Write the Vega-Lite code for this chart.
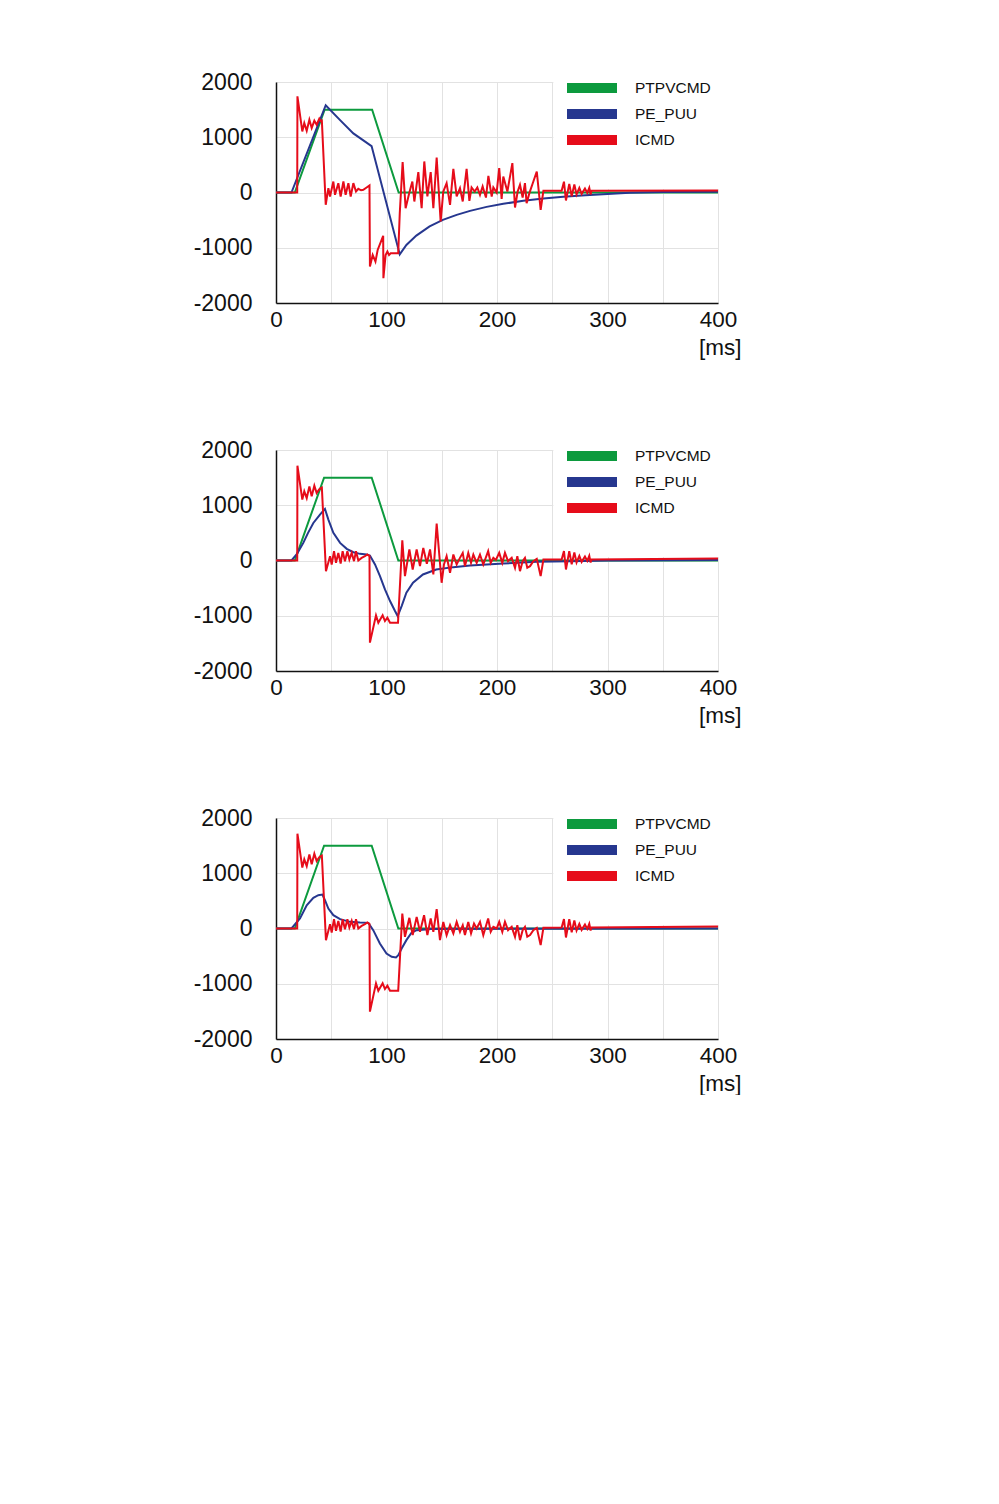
{
  "$schema": "https://vega.github.io/schema/vega-lite/v6.json",
  "background": "white",
  "padding": {"left": 193, "top": 71, "right": 0, "bottom": 0},
  "bounds": "flush",
  "spacing": 147,
  "config": {
    "font": "Liberation Sans",
    "view": {"stroke": null},
    "axis": {"gridColor": "#e2e2e2", "gridWidth": 1, "domainColor": "#111111", "domainWidth": 1.5, "ticks": false, "labelColor": "#111111", "titleColor": "#111111", "titleFontWeight": "normal", "titleFontSize": 22.5},
    "legend": {"orient": "none", "legendX": 290, "legendY": -4, "title": null, "symbolType": "M-1.8,0H8.2", "symbolSize": 100, "symbolStrokeWidth": 10, "labelFontSize": 15.5, "labelOffset": 49, "clipHeight": 20, "rowPadding": 6, "padding": 0, "labelColor": "#111111"}
  },
  "resolve": {"legend": {"color": "independent"}},
  "datasets": {
    "d": [
      {"p":1,"s":"PTPVCMD","t":0,"v":0},{"p":1,"s":"PTPVCMD","t":17,"v":0},{"p":1,"s":"PTPVCMD","t":44,"v":1500},{"p":1,"s":"PTPVCMD","t":87,"v":1500},{"p":1,"s":"PTPVCMD","t":111,"v":0},{"p":1,"s":"PTPVCMD","t":400,"v":0},
      {"p":1,"s":"PE_PUU","t":0,"v":0},{"p":1,"s":"PE_PUU","t":14,"v":0},{"p":1,"s":"PE_PUU","t":45,"v":1580},{"p":1,"s":"PE_PUU","t":58,"v":1310},{"p":1,"s":"PE_PUU","t":70,"v":1070},{"p":1,"s":"PE_PUU","t":86.5,"v":840},{"p":1,"s":"PE_PUU","t":112,"v":-1120},{"p":1,"s":"PE_PUU","t":118,"v":-950},{"p":1,"s":"PE_PUU","t":127,"v":-780},{"p":1,"s":"PE_PUU","t":139,"v":-615},{"p":1,"s":"PE_PUU","t":151,"v":-495},{"p":1,"s":"PE_PUU","t":163.5,"v":-405},{"p":1,"s":"PE_PUU","t":175.6,"v":-332},{"p":1,"s":"PE_PUU","t":190.6,"v":-260},{"p":1,"s":"PE_PUU","t":205.7,"v":-205},{"p":1,"s":"PE_PUU","t":223.8,"v":-151},{"p":1,"s":"PE_PUU","t":242,"v":-109},{"p":1,"s":"PE_PUU","t":260,"v":-79},{"p":1,"s":"PE_PUU","t":280,"v":-50},{"p":1,"s":"PE_PUU","t":300,"v":-25},{"p":1,"s":"PE_PUU","t":320,"v":-5},{"p":1,"s":"PE_PUU","t":350,"v":8},{"p":1,"s":"PE_PUU","t":400,"v":12},
      {"p":1,"s":"ICMD","t":0,"v":0},{"p":1,"s":"ICMD","t":19.2,"v":0},{"p":1,"s":"ICMD","t":19.4,"v":1740},{"p":1,"s":"ICMD","t":23.8,"v":1105},{"p":1,"s":"ICMD","t":25.6,"v":1256},{"p":1,"s":"ICMD","t":27.8,"v":1117},{"p":1,"s":"ICMD","t":30.2,"v":1317},{"p":1,"s":"ICMD","t":32.3,"v":1166},{"p":1,"s":"ICMD","t":34.7,"v":1299},{"p":1,"s":"ICMD","t":36.8,"v":1226},{"p":1,"s":"ICMD","t":39.2,"v":1335},{"p":1,"s":"ICMD","t":40.6,"v":1290},{"p":1,"s":"ICMD","t":41.5,"v":1300},{"p":1,"s":"ICMD","t":45,"v":-223},{"p":1,"s":"ICMD","t":47.4,"v":79},{"p":1,"s":"ICMD","t":48.9,"v":-72},{"p":1,"s":"ICMD","t":51.9,"v":199},{"p":1,"s":"ICMD","t":53.4,"v":-42},{"p":1,"s":"ICMD","t":56.4,"v":169},{"p":1,"s":"ICMD","t":58.5,"v":-72},{"p":1,"s":"ICMD","t":61,"v":199},{"p":1,"s":"ICMD","t":63,"v":-42},{"p":1,"s":"ICMD","t":65.5,"v":169},{"p":1,"s":"ICMD","t":67.6,"v":-72},{"p":1,"s":"ICMD","t":70,"v":169},{"p":1,"s":"ICMD","t":72.4,"v":18},{"p":1,"s":"ICMD","t":74.5,"v":66},{"p":1,"s":"ICMD","t":77,"v":40},{"p":1,"s":"ICMD","t":79,"v":48},{"p":1,"s":"ICMD","t":82,"v":91},{"p":1,"s":"ICMD","t":84.6,"v":127},{"p":1,"s":"ICMD","t":85,"v":-1340},{"p":1,"s":"ICMD","t":87.5,"v":-1130},{"p":1,"s":"ICMD","t":90,"v":-1250},{"p":1,"s":"ICMD","t":92,"v":-1040},{"p":1,"s":"ICMD","t":97,"v":-785},{"p":1,"s":"ICMD","t":97.2,"v":-1552},{"p":1,"s":"ICMD","t":99.2,"v":-1130},{"p":1,"s":"ICMD","t":100.8,"v":-1069},{"p":1,"s":"ICMD","t":102.3,"v":-1130},{"p":1,"s":"ICMD","t":103.8,"v":-1100},{"p":1,"s":"ICMD","t":110.6,"v":-1100},{"p":1,"s":"ICMD","t":112,"v":-375},{"p":1,"s":"ICMD","t":114.6,"v":550},{"p":1,"s":"ICMD","t":117.3,"v":-284},{"p":1,"s":"ICMD","t":120.7,"v":0},{"p":1,"s":"ICMD","t":123.4,"v":199},{"p":1,"s":"ICMD","t":125.2,"v":-163},{"p":1,"s":"ICMD","t":128.8,"v":368},{"p":1,"s":"ICMD","t":131.8,"v":-284},{"p":1,"s":"ICMD","t":134.2,"v":562},{"p":1,"s":"ICMD","t":137,"v":-72},{"p":1,"s":"ICMD","t":140,"v":368},{"p":1,"s":"ICMD","t":142.4,"v":-284},{"p":1,"s":"ICMD","t":145.4,"v":634},{"p":1,"s":"ICMD","t":149,"v":-525},{"p":1,"s":"ICMD","t":151.4,"v":18},{"p":1,"s":"ICMD","t":154.4,"v":169},{"p":1,"s":"ICMD","t":157.5,"v":-223},{"p":1,"s":"ICMD","t":160.5,"v":429},{"p":1,"s":"ICMD","t":163.5,"v":-72},{"p":1,"s":"ICMD","t":166.5,"v":79},{"p":1,"s":"ICMD","t":169,"v":-163},{"p":1,"s":"ICMD","t":172.5,"v":429},{"p":1,"s":"ICMD","t":175,"v":-151},{"p":1,"s":"ICMD","t":177,"v":91},{"p":1,"s":"ICMD","t":179.8,"v":18},{"p":1,"s":"ICMD","t":182.2,"v":91},{"p":1,"s":"ICMD","t":184.6,"v":-42},{"p":1,"s":"ICMD","t":187,"v":109},{"p":1,"s":"ICMD","t":190,"v":-91},{"p":1,"s":"ICMD","t":192.2,"v":302},{"p":1,"s":"ICMD","t":195.2,"v":-72},{"p":1,"s":"ICMD","t":196.7,"v":91},{"p":1,"s":"ICMD","t":199.7,"v":0},{"p":1,"s":"ICMD","t":202,"v":441},{"p":1,"s":"ICMD","t":204.2,"v":-115},{"p":1,"s":"ICMD","t":205.7,"v":290},{"p":1,"s":"ICMD","t":209.4,"v":18},{"p":1,"s":"ICMD","t":213.9,"v":531},{"p":1,"s":"ICMD","t":216.3,"v":-272},{"p":1,"s":"ICMD","t":218.7,"v":18},{"p":1,"s":"ICMD","t":220.8,"v":139},{"p":1,"s":"ICMD","t":223.2,"v":-91},{"p":1,"s":"ICMD","t":225.3,"v":169},{"p":1,"s":"ICMD","t":226.8,"v":-193},{"p":1,"s":"ICMD","t":229.3,"v":-12},{"p":1,"s":"ICMD","t":232.9,"v":199},{"p":1,"s":"ICMD","t":236,"v":380},{"p":1,"s":"ICMD","t":239.5,"v":-314},{"p":1,"s":"ICMD","t":242,"v":30},{"p":1,"s":"ICMD","t":258.5,"v":30},{"p":1,"s":"ICMD","t":260.6,"v":196},{"p":1,"s":"ICMD","t":262.4,"v":-145},{"p":1,"s":"ICMD","t":265.4,"v":156},{"p":1,"s":"ICMD","t":267.6,"v":-67},{"p":1,"s":"ICMD","t":270,"v":147},{"p":1,"s":"ICMD","t":272,"v":-36},{"p":1,"s":"ICMD","t":274.5,"v":84},{"p":1,"s":"ICMD","t":276.6,"v":-25},{"p":1,"s":"ICMD","t":279.6,"v":73},{"p":1,"s":"ICMD","t":281.7,"v":-7},{"p":1,"s":"ICMD","t":283.5,"v":84},{"p":1,"s":"ICMD","t":284.7,"v":-36},{"p":1,"s":"ICMD","t":285.5,"v":30},{"p":1,"s":"ICMD","t":400,"v":36},

      {"p":2,"s":"PTPVCMD","t":0,"v":0},{"p":2,"s":"PTPVCMD","t":17,"v":0},{"p":2,"s":"PTPVCMD","t":43.5,"v":1500},{"p":2,"s":"PTPVCMD","t":86.6,"v":1500},{"p":2,"s":"PTPVCMD","t":110.7,"v":0},{"p":2,"s":"PTPVCMD","t":400,"v":0},
      {"p":2,"s":"PE_PUU","t":0,"v":0},{"p":2,"s":"PE_PUU","t":14,"v":0},{"p":2,"s":"PE_PUU","t":19,"v":120},{"p":2,"s":"PE_PUU","t":24.7,"v":319},{"p":2,"s":"PE_PUU","t":29,"v":500},{"p":2,"s":"PE_PUU","t":33.8,"v":680},{"p":2,"s":"PE_PUU","t":39.8,"v":831},{"p":2,"s":"PE_PUU","t":44.3,"v":933},{"p":2,"s":"PE_PUU","t":47.4,"v":740},{"p":2,"s":"PE_PUU","t":51.9,"v":500},{"p":2,"s":"PE_PUU","t":58,"v":319},{"p":2,"s":"PE_PUU","t":64,"v":211},{"p":2,"s":"PE_PUU","t":70,"v":150},{"p":2,"s":"PE_PUU","t":76,"v":120},{"p":2,"s":"PE_PUU","t":82,"v":108},{"p":2,"s":"PE_PUU","t":85,"v":90},{"p":2,"s":"PE_PUU","t":89.6,"v":-72},{"p":2,"s":"PE_PUU","t":94.1,"v":-283},{"p":2,"s":"PE_PUU","t":98.6,"v":-524},{"p":2,"s":"PE_PUU","t":103.2,"v":-734},{"p":2,"s":"PE_PUU","t":107.7,"v":-915},{"p":2,"s":"PE_PUU","t":110.1,"v":-1005},{"p":2,"s":"PE_PUU","t":113.7,"v":-825},{"p":2,"s":"PE_PUU","t":118,"v":-584},{"p":2,"s":"PE_PUU","t":124,"v":-403},{"p":2,"s":"PE_PUU","t":133,"v":-253},{"p":2,"s":"PE_PUU","t":145,"v":-163},{"p":2,"s":"PE_PUU","t":160.5,"v":-120},{"p":2,"s":"PE_PUU","t":175.6,"v":-90},{"p":2,"s":"PE_PUU","t":205.7,"v":-54},{"p":2,"s":"PE_PUU","t":236,"v":-24},{"p":2,"s":"PE_PUU","t":266,"v":-12},{"p":2,"s":"PE_PUU","t":300,"v":0},{"p":2,"s":"PE_PUU","t":400,"v":8},
      {"p":2,"s":"ICMD","t":0,"v":0},{"p":2,"s":"ICMD","t":19.2,"v":0},{"p":2,"s":"ICMD","t":19.4,"v":1716},{"p":2,"s":"ICMD","t":23.8,"v":1102},{"p":2,"s":"ICMD","t":25.6,"v":1252},{"p":2,"s":"ICMD","t":27.8,"v":1130},{"p":2,"s":"ICMD","t":30.2,"v":1342},{"p":2,"s":"ICMD","t":32.3,"v":1162},{"p":2,"s":"ICMD","t":34.7,"v":1354},{"p":2,"s":"ICMD","t":36.8,"v":1222},{"p":2,"s":"ICMD","t":39.2,"v":1290},{"p":2,"s":"ICMD","t":40.6,"v":1312},{"p":2,"s":"ICMD","t":41.5,"v":1320},{"p":2,"s":"ICMD","t":45.2,"v":-193},{"p":2,"s":"ICMD","t":48.9,"v":78},{"p":2,"s":"ICMD","t":50.4,"v":-72},{"p":2,"s":"ICMD","t":52.5,"v":169},{"p":2,"s":"ICMD","t":54.3,"v":-42},{"p":2,"s":"ICMD","t":56.4,"v":138},{"p":2,"s":"ICMD","t":58.5,"v":-54},{"p":2,"s":"ICMD","t":60.3,"v":169},{"p":2,"s":"ICMD","t":62.4,"v":-12},{"p":2,"s":"ICMD","t":64.6,"v":169},{"p":2,"s":"ICMD","t":66.4,"v":18},{"p":2,"s":"ICMD","t":68.5,"v":138},{"p":2,"s":"ICMD","t":70.6,"v":-12},{"p":2,"s":"ICMD","t":72.4,"v":169},{"p":2,"s":"ICMD","t":74.5,"v":0},{"p":2,"s":"ICMD","t":77.5,"v":48},{"p":2,"s":"ICMD","t":80.5,"v":78},{"p":2,"s":"ICMD","t":82.7,"v":108},{"p":2,"s":"ICMD","t":84.6,"v":80},{"p":2,"s":"ICMD","t":85,"v":-1487},{"p":2,"s":"ICMD","t":90.5,"v":-993},{"p":2,"s":"ICMD","t":92.6,"v":-1126},{"p":2,"s":"ICMD","t":96.5,"v":-993},{"p":2,"s":"ICMD","t":98.6,"v":-1096},{"p":2,"s":"ICMD","t":100.8,"v":-1035},{"p":2,"s":"ICMD","t":103.2,"v":-1126},{"p":2,"s":"ICMD","t":110.4,"v":-1126},{"p":2,"s":"ICMD","t":114.3,"v":367},{"p":2,"s":"ICMD","t":116.7,"v":-283},{"p":2,"s":"ICMD","t":120.7,"v":199},{"p":2,"s":"ICMD","t":123.7,"v":-163},{"p":2,"s":"ICMD","t":127.3,"v":199},{"p":2,"s":"ICMD","t":130.3,"v":-102},{"p":2,"s":"ICMD","t":133.3,"v":229},{"p":2,"s":"ICMD","t":136.5,"v":-60},{"p":2,"s":"ICMD","t":139.4,"v":199},{"p":2,"s":"ICMD","t":142.4,"v":-253},{"p":2,"s":"ICMD","t":145.4,"v":668},{"p":2,"s":"ICMD","t":149.9,"v":-403},{"p":2,"s":"ICMD","t":152,"v":-72},{"p":2,"s":"ICMD","t":154.4,"v":78},{"p":2,"s":"ICMD","t":157.5,"v":-223},{"p":2,"s":"ICMD","t":160.5,"v":108},{"p":2,"s":"ICMD","t":163.5,"v":-72},{"p":2,"s":"ICMD","t":166,"v":30},{"p":2,"s":"ICMD","t":169,"v":138},{"p":2,"s":"ICMD","t":171,"v":-102},{"p":2,"s":"ICMD","t":174,"v":138},{"p":2,"s":"ICMD","t":176.5,"v":-42},{"p":2,"s":"ICMD","t":178.6,"v":108},{"p":2,"s":"ICMD","t":181.6,"v":-42},{"p":2,"s":"ICMD","t":184.6,"v":108},{"p":2,"s":"ICMD","t":187.6,"v":-72},{"p":2,"s":"ICMD","t":192,"v":169},{"p":2,"s":"ICMD","t":194.3,"v":-42},{"p":2,"s":"ICMD","t":196.7,"v":48},{"p":2,"s":"ICMD","t":199,"v":10},{"p":2,"s":"ICMD","t":202,"v":138},{"p":2,"s":"ICMD","t":204.8,"v":-42},{"p":2,"s":"ICMD","t":207.2,"v":138},{"p":2,"s":"ICMD","t":210,"v":-12},{"p":2,"s":"ICMD","t":213.3,"v":48},{"p":2,"s":"ICMD","t":216.3,"v":-132},{"p":2,"s":"ICMD","t":218.4,"v":78},{"p":2,"s":"ICMD","t":220.8,"v":-193},{"p":2,"s":"ICMD","t":223.2,"v":-12},{"p":2,"s":"ICMD","t":225.3,"v":48},{"p":2,"s":"ICMD","t":227.4,"v":-132},{"p":2,"s":"ICMD","t":229.9,"v":-102},{"p":2,"s":"ICMD","t":232.9,"v":-12},{"p":2,"s":"ICMD","t":236,"v":30},{"p":2,"s":"ICMD","t":239.5,"v":-283},{"p":2,"s":"ICMD","t":242,"v":18},{"p":2,"s":"ICMD","t":258.5,"v":18},{"p":2,"s":"ICMD","t":260.6,"v":170},{"p":2,"s":"ICMD","t":262.4,"v":-163},{"p":2,"s":"ICMD","t":265.4,"v":169},{"p":2,"s":"ICMD","t":267.6,"v":-67},{"p":2,"s":"ICMD","t":270,"v":147},{"p":2,"s":"ICMD","t":272,"v":-36},{"p":2,"s":"ICMD","t":274.5,"v":84},{"p":2,"s":"ICMD","t":276.6,"v":-25},{"p":2,"s":"ICMD","t":279.6,"v":73},{"p":2,"s":"ICMD","t":281.7,"v":-7},{"p":2,"s":"ICMD","t":283.5,"v":84},{"p":2,"s":"ICMD","t":284.7,"v":-36},{"p":2,"s":"ICMD","t":285.5,"v":18},{"p":2,"s":"ICMD","t":400,"v":36},

      {"p":3,"s":"PTPVCMD","t":0,"v":0},{"p":3,"s":"PTPVCMD","t":17,"v":0},{"p":3,"s":"PTPVCMD","t":43.5,"v":1500},{"p":3,"s":"PTPVCMD","t":86.6,"v":1500},{"p":3,"s":"PTPVCMD","t":110.7,"v":0},{"p":3,"s":"PTPVCMD","t":400,"v":0},
      {"p":3,"s":"PE_PUU","t":0,"v":0},{"p":3,"s":"PE_PUU","t":14,"v":0},{"p":3,"s":"PE_PUU","t":21.7,"v":181},{"p":3,"s":"PE_PUU","t":27.8,"v":421},{"p":3,"s":"PE_PUU","t":33.8,"v":554},{"p":3,"s":"PE_PUU","t":38.3,"v":602},{"p":3,"s":"PE_PUU","t":42,"v":614},{"p":3,"s":"PE_PUU","t":44.3,"v":512},{"p":3,"s":"PE_PUU","t":47.4,"v":361},{"p":3,"s":"PE_PUU","t":51.9,"v":241},{"p":3,"s":"PE_PUU","t":58,"v":169},{"p":3,"s":"PE_PUU","t":67,"v":120},{"p":3,"s":"PE_PUU","t":76,"v":108},{"p":3,"s":"PE_PUU","t":83.6,"v":102},{"p":3,"s":"PE_PUU","t":88,"v":-30},{"p":3,"s":"PE_PUU","t":94,"v":-271},{"p":3,"s":"PE_PUU","t":100,"v":-452},{"p":3,"s":"PE_PUU","t":104.7,"v":-512},{"p":3,"s":"PE_PUU","t":108.6,"v":-524},{"p":3,"s":"PE_PUU","t":110.7,"v":-482},{"p":3,"s":"PE_PUU","t":113.7,"v":-361},{"p":3,"s":"PE_PUU","t":118,"v":-211},{"p":3,"s":"PE_PUU","t":122.8,"v":-72},{"p":3,"s":"PE_PUU","t":127.3,"v":-30},{"p":3,"s":"PE_PUU","t":140,"v":-10},{"p":3,"s":"PE_PUU","t":200,"v":-5},{"p":3,"s":"PE_PUU","t":400,"v":0},
      {"p":3,"s":"ICMD","t":0,"v":0},{"p":3,"s":"ICMD","t":19.2,"v":0},{"p":3,"s":"ICMD","t":19.4,"v":1716},{"p":3,"s":"ICMD","t":23.8,"v":1102},{"p":3,"s":"ICMD","t":25.6,"v":1252},{"p":3,"s":"ICMD","t":27.8,"v":1130},{"p":3,"s":"ICMD","t":30.2,"v":1342},{"p":3,"s":"ICMD","t":32.3,"v":1162},{"p":3,"s":"ICMD","t":34.7,"v":1354},{"p":3,"s":"ICMD","t":36.8,"v":1222},{"p":3,"s":"ICMD","t":39.2,"v":1290},{"p":3,"s":"ICMD","t":40.6,"v":1312},{"p":3,"s":"ICMD","t":41.5,"v":1320},{"p":3,"s":"ICMD","t":45.2,"v":-211},{"p":3,"s":"ICMD","t":48.9,"v":78},{"p":3,"s":"ICMD","t":50.4,"v":-72},{"p":3,"s":"ICMD","t":52.5,"v":169},{"p":3,"s":"ICMD","t":54.3,"v":-42},{"p":3,"s":"ICMD","t":56.4,"v":138},{"p":3,"s":"ICMD","t":58.5,"v":-54},{"p":3,"s":"ICMD","t":60.3,"v":169},{"p":3,"s":"ICMD","t":62.4,"v":-12},{"p":3,"s":"ICMD","t":64.6,"v":169},{"p":3,"s":"ICMD","t":66.4,"v":18},{"p":3,"s":"ICMD","t":68.5,"v":138},{"p":3,"s":"ICMD","t":70.6,"v":-12},{"p":3,"s":"ICMD","t":72.4,"v":169},{"p":3,"s":"ICMD","t":74.5,"v":0},{"p":3,"s":"ICMD","t":77.5,"v":48},{"p":3,"s":"ICMD","t":80.5,"v":78},{"p":3,"s":"ICMD","t":82.7,"v":108},{"p":3,"s":"ICMD","t":84.6,"v":80},{"p":3,"s":"ICMD","t":85,"v":-1505},{"p":3,"s":"ICMD","t":90.5,"v":-993},{"p":3,"s":"ICMD","t":92.6,"v":-1126},{"p":3,"s":"ICMD","t":96.5,"v":-993},{"p":3,"s":"ICMD","t":98.6,"v":-1096},{"p":3,"s":"ICMD","t":100.8,"v":-1035},{"p":3,"s":"ICMD","t":103.2,"v":-1126},{"p":3,"s":"ICMD","t":110.6,"v":-1126},{"p":3,"s":"ICMD","t":114.3,"v":271},{"p":3,"s":"ICMD","t":116.7,"v":-150},{"p":3,"s":"ICMD","t":120.7,"v":193},{"p":3,"s":"ICMD","t":123.7,"v":-120},{"p":3,"s":"ICMD","t":127.3,"v":211},{"p":3,"s":"ICMD","t":130.3,"v":-60},{"p":3,"s":"ICMD","t":134,"v":241},{"p":3,"s":"ICMD","t":137,"v":-120},{"p":3,"s":"ICMD","t":140,"v":181},{"p":3,"s":"ICMD","t":142.4,"v":-60},{"p":3,"s":"ICMD","t":145.4,"v":349},{"p":3,"s":"ICMD","t":148.4,"v":-211},{"p":3,"s":"ICMD","t":151.4,"v":120},{"p":3,"s":"ICMD","t":154.4,"v":-120},{"p":3,"s":"ICMD","t":157.5,"v":60},{"p":3,"s":"ICMD","t":160.5,"v":-90},{"p":3,"s":"ICMD","t":163.5,"v":120},{"p":3,"s":"ICMD","t":166.5,"v":-60},{"p":3,"s":"ICMD","t":169,"v":60},{"p":3,"s":"ICMD","t":171,"v":-120},{"p":3,"s":"ICMD","t":174,"v":120},{"p":3,"s":"ICMD","t":176.5,"v":-90},{"p":3,"s":"ICMD","t":179.2,"v":90},{"p":3,"s":"ICMD","t":181.6,"v":0},{"p":3,"s":"ICMD","t":184.6,"v":120},{"p":3,"s":"ICMD","t":187.6,"v":-120},{"p":3,"s":"ICMD","t":192,"v":181},{"p":3,"s":"ICMD","t":194.3,"v":-60},{"p":3,"s":"ICMD","t":196.7,"v":30},{"p":3,"s":"ICMD","t":199.7,"v":0},{"p":3,"s":"ICMD","t":202,"v":120},{"p":3,"s":"ICMD","t":204.8,"v":-60},{"p":3,"s":"ICMD","t":207.2,"v":120},{"p":3,"s":"ICMD","t":210,"v":-30},{"p":3,"s":"ICMD","t":213.3,"v":30},{"p":3,"s":"ICMD","t":216.3,"v":-150},{"p":3,"s":"ICMD","t":218.4,"v":60},{"p":3,"s":"ICMD","t":220.8,"v":-211},{"p":3,"s":"ICMD","t":223.2,"v":-30},{"p":3,"s":"ICMD","t":225.3,"v":30},{"p":3,"s":"ICMD","t":227.4,"v":-150},{"p":3,"s":"ICMD","t":229.9,"v":-120},{"p":3,"s":"ICMD","t":232.9,"v":-30},{"p":3,"s":"ICMD","t":236,"v":12},{"p":3,"s":"ICMD","t":239.5,"v":-301},{"p":3,"s":"ICMD","t":242,"v":12},{"p":3,"s":"ICMD","t":258.5,"v":18},{"p":3,"s":"ICMD","t":260.6,"v":170},{"p":3,"s":"ICMD","t":262.4,"v":-163},{"p":3,"s":"ICMD","t":265.4,"v":169},{"p":3,"s":"ICMD","t":267.6,"v":-67},{"p":3,"s":"ICMD","t":270,"v":147},{"p":3,"s":"ICMD","t":272,"v":-36},{"p":3,"s":"ICMD","t":274.5,"v":84},{"p":3,"s":"ICMD","t":276.6,"v":-25},{"p":3,"s":"ICMD","t":279.6,"v":73},{"p":3,"s":"ICMD","t":281.7,"v":-7},{"p":3,"s":"ICMD","t":283.5,"v":84},{"p":3,"s":"ICMD","t":284.7,"v":-36},{"p":3,"s":"ICMD","t":285.5,"v":18},{"p":3,"s":"ICMD","t":400,"v":36}
    ]
  },
  "vconcat": [
    {
      "width": 442, "height": 221,
      "layer": [
        {"data": {"values": [{}]}, "mark": {"type": "rect", "fill": "white", "clip": false}, "encoding": {"x": {"datum": 251}, "x2": {"datum": 402}, "y": {"datum": 60}, "y2": {"datum": 2050}}},
        {"data": {"name": "d"}, "transform": [{"filter": "datum.p == 1"}], "mark": {"type": "line", "strokeWidth": 2},
         "encoding": {
           "x": {"field": "t", "type": "quantitative", "scale": {"domain": [0, 400], "nice": false}, "axis": {"values": [0,50,100,150,200,250,300,350,400], "labelExpr": "datum.value % 100 == 0 ? datum.label : ''", "labelFlush": false, "labelFontSize": 22.5, "labelPadding": 5, "title": "[ms]", "titleX": 465, "titleY": 44, "titleAlign": "right", "titleBaseline": "middle", "grid": true}},
           "y": {"field": "v", "type": "quantitative", "scale": {"domain": [-2000, 2000], "nice": false}, "axis": {"values": [-2000,-1000,0,1000,2000], "labelExpr": "'' + datum.value", "labelFontSize": 23, "labelPadding": 24, "title": null, "grid": true}},
           "color": {"field": "s", "type": "nominal", "scale": {"domain": ["PTPVCMD", "PE_PUU", "ICMD"], "range": ["#0c9a3e", "#26378f", "#e60c1a"]}, "sort": ["PTPVCMD", "PE_PUU", "ICMD"]}
         }}
      ]
    },
    {
      "width": 442, "height": 221,
      "layer": [
        {"data": {"values": [{}]}, "mark": {"type": "rect", "fill": "white", "clip": false}, "encoding": {"x": {"datum": 251}, "x2": {"datum": 402}, "y": {"datum": 60}, "y2": {"datum": 2050}}},
        {"data": {"name": "d"}, "transform": [{"filter": "datum.p == 2"}], "mark": {"type": "line", "strokeWidth": 2},
         "encoding": {
           "x": {"field": "t", "type": "quantitative", "scale": {"domain": [0, 400], "nice": false}, "axis": {"values": [0,50,100,150,200,250,300,350,400], "labelExpr": "datum.value % 100 == 0 ? datum.label : ''", "labelFlush": false, "labelFontSize": 22.5, "labelPadding": 5, "title": "[ms]", "titleX": 465, "titleY": 44, "titleAlign": "right", "titleBaseline": "middle", "grid": true}},
           "y": {"field": "v", "type": "quantitative", "scale": {"domain": [-2000, 2000], "nice": false}, "axis": {"values": [-2000,-1000,0,1000,2000], "labelExpr": "'' + datum.value", "labelFontSize": 23, "labelPadding": 24, "title": null, "grid": true}},
           "color": {"field": "s", "type": "nominal", "scale": {"domain": ["PTPVCMD", "PE_PUU", "ICMD"], "range": ["#0c9a3e", "#26378f", "#e60c1a"]}, "sort": ["PTPVCMD", "PE_PUU", "ICMD"]}
         }}
      ]
    },
    {
      "width": 442, "height": 221,
      "layer": [
        {"data": {"values": [{}]}, "mark": {"type": "rect", "fill": "white", "clip": false}, "encoding": {"x": {"datum": 251}, "x2": {"datum": 402}, "y": {"datum": 60}, "y2": {"datum": 2050}}},
        {"data": {"name": "d"}, "transform": [{"filter": "datum.p == 3"}], "mark": {"type": "line", "strokeWidth": 2},
         "encoding": {
           "x": {"field": "t", "type": "quantitative", "scale": {"domain": [0, 400], "nice": false}, "axis": {"values": [0,50,100,150,200,250,300,350,400], "labelExpr": "datum.value % 100 == 0 ? datum.label : ''", "labelFlush": false, "labelFontSize": 22.5, "labelPadding": 5, "title": "[ms]", "titleX": 465, "titleY": 44, "titleAlign": "right", "titleBaseline": "middle", "grid": true}},
           "y": {"field": "v", "type": "quantitative", "scale": {"domain": [-2000, 2000], "nice": false}, "axis": {"values": [-2000,-1000,0,1000,2000], "labelExpr": "'' + datum.value", "labelFontSize": 23, "labelPadding": 24, "title": null, "grid": true}},
           "color": {"field": "s", "type": "nominal", "scale": {"domain": ["PTPVCMD", "PE_PUU", "ICMD"], "range": ["#0c9a3e", "#26378f", "#e60c1a"]}, "sort": ["PTPVCMD", "PE_PUU", "ICMD"]}
         }}
      ]
    }
  ]
}
